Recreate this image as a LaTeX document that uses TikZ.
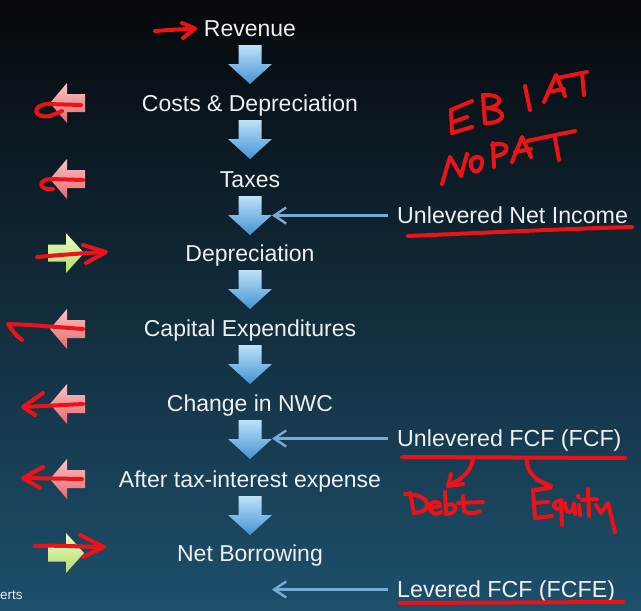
\documentclass[tikz,border=0pt]{standalone}
\usepackage{fontspec}
\setmainfont{Liberation Sans}
\usetikzlibrary{arrows.meta}

\definecolor{bgtop}{RGB}{6,8,11}
\definecolor{bgmid}{RGB}{17,48,66}
\definecolor{bgbot}{RGB}{29,80,108}
\definecolor{flowtop}{RGB}{190,226,248}
\definecolor{flowbot}{RGB}{68,146,212}
\definecolor{feedblue}{RGB}{120,172,214}
\definecolor{pinktop}{RGB}{250,196,196}
\definecolor{pinkbot}{RGB}{228,104,110}
\definecolor{greentop}{RGB}{238,250,196}
\definecolor{greenbot}{RGB}{176,220,108}
\definecolor{ink}{RGB}{236,18,24}
\definecolor{label}{RGB}{238,240,242}

\tikzset{
  step label/.style={text=label, font=\fontsize{23pt}{27pt}\selectfont,
    inner sep=0pt, anchor=base},
  side label/.style={text=label, font=\fontsize{23.2pt}{27pt}\selectfont,
    inner ysep=0pt, inner xsep=9pt, text height=15pt, text depth=0pt,
    anchor=west},
  feed/.style={draw=feedblue, line width=2.6pt,
    -{Straight Barb[length=12pt, width=16pt, line width=2.4pt]}},
  pen/.style={draw=ink, line width=4pt, line cap=round, line join=round},
  flow arrow/.pic={
    \shade[top color=flowtop, bottom color=flowbot]
      (-11.5,0) -- (11.5,0) -- (11.5,19) -- (22,19) -- (0,39)
      -- (-22,19) -- (-11.5,19) -- cycle;},
  out arrow/.pic={
    \shade[top color=pinktop, bottom color=pinkbot]
      (50,0) -- (67,-20) -- (67,-9) -- (85,-9) -- (85,9) -- (67,9)
      -- (67,20) -- cycle;},
  in arrow/.pic={
    \shade[top color=greentop, bottom color=greenbot]
      (48,-8.5) -- (66,-8.5) -- (66,-20) -- (84,0) -- (66,20)
      -- (66,8.5) -- (48,8.5) -- cycle;},
}

\begin{document}
\begin{tikzpicture}[x=1pt, y=-1pt]
  % backdrop
  \shade[top color=bgtop, middle color=bgmid, bottom color=bgbot]
    (0,0) rectangle (641,611);
  \useasboundingbox (0,0) rectangle (641,611);

  % cash-flow steps, top to bottom (baselines)
  \node[step label] (rev)  at (250,36)  {Revenue};
  \node[step label] (cost) at (250,111) {Costs \& Depreciation};
  \node[step label] (tax)  at (250,187) {Taxes};
  \node[step label] (dep)  at (250,261) {Depreciation};
  \node[step label] (capx) at (250,336) {Capital Expenditures};
  \node[step label] (nwc)  at (250,411) {Change in NWC};
  \node[step label] (int)  at (250,487) {After tax-interest expense};
  \node[step label] (borr) at (250,561) {Net Borrowing};

  % downward flow between consecutive steps
  \foreach \n in {rev,cost,tax,dep,capx,nwc,int}
    \pic at ([yshift=-9pt]\n.base) {flow arrow};

  % sign of each step: out of / into the cash flow
  \pic at (0,103) {out arrow};
  \pic at (0,179) {out arrow};
  \pic at (0,253) {in arrow};
  \pic at (0,329) {out arrow};
  \pic at (0,404) {out arrow};
  \pic at (0,479) {out arrow};
  \pic at (0,553) {in arrow};

  % named subtotals on the right
  \node[side label] (uni)  at (388,215.5) {Unlevered Net Income};
  \node[side label] (ufcf) at (388,438.5) {Unlevered FCF (FCF)};
  \node[side label] (lfcf) at (388,589.5) {Levered FCF (FCFE)};
  \coordinate (tipx) at (272,0);
  \draw[feed] (uni.west)  -- (uni.west -| tipx);
  \draw[feed] (ufcf.west) -- (ufcf.west -| tipx);
  \draw[feed] (lfcf.west) -- (lfcf.west -| tipx);

  % credit line, cut at the edge
  \node[text=label, font=\fontsize{13.5pt}{15pt}\selectfont, inner sep=0pt,
        anchor=base west] (credit) at (0,599) {erts};

  % ---- pen annotations ----
  % arrow into Revenue
  \draw[pen] (155,31) .. controls (170,30) and (182,29) .. (194,29);
  \draw[pen] (182,23) -- (195,28.5) -- (183,38);
  % costs
  \draw[pen] (81,105) -- (48,104) .. controls (31,105) and (33,119) .. (50,116) -- (62,111);
  % taxes
  \draw[pen] (83,180) -- (50,179) .. controls (37,180) and (39,191) .. (53,189);
  % depreciation
  \draw[pen] (37,257) .. controls (60,255) and (85,253) .. (105,252);
  \draw[pen] (83,245) -- (106,252) -- (86,263);
  % capital expenditures
  \draw[pen] (83,329) -- (30,325) -- (8,324) .. controls (12,330) and (16,336) .. (22,340);
  % change in NWC
  \draw[pen] (83,404) -- (24,407);
  \draw[pen] (43,393) -- (23,407) -- (35,415);
  % after-tax interest
  \draw[pen] (82,479) -- (25,478);
  \draw[pen] (43,467) -- (23,478) -- (40,488);
  % net borrowing
  \draw[pen] (35,546) .. controls (60,545) and (85,547) .. (103,547);
  \draw[pen] (80,535) -- (104,547) -- (83,557);

  % underlines
  \draw[pen] (408,236) .. controls (480,233) and (560,229) .. (632,227);
  \draw[pen] (402,457) -- (625,458);
  \draw[pen] (400,603) -- (623,602);

  % EBIAT
  \draw[pen] (451,110) -- (472,101);
  \draw[pen] (451,110) -- (452,133);
  \draw[pen] (453,122) -- (467,117);
  \draw[pen] (452,133) -- (472,127);
  \draw[pen] (483,95) -- (485,123);
  \draw[pen] (483,95) .. controls (508,94) and (500,108) .. (487,108)
                      .. controls (510,110) and (505,124) .. (485,123);
  \draw[pen] (525,86) -- (530,110);
  \draw[pen] (544,102) -- (556,75) -- (565,96);
  \draw[pen] (548,92) -- (564,89);
  \draw[pen] (557,78) -- (587,72);
  \draw[pen] (582,73) -- (584,95);

  % NOPAT
  \draw[pen] (442,184) -- (450,157) -- (461,176) -- (467,154);
  \draw[pen] (471,161) .. controls (469,175) and (483,175) .. (482,160)
                       .. controls (480,155) and (474,156) .. (471,161);
  \draw[pen] (493,143) -- (494,167);
  \draw[pen] (492,145) .. controls (512,140) and (510,155) .. (495,156);
  \draw[pen] (512,162) -- (522,137) -- (531,157);
  \draw[pen] (515,152) -- (531,149);
  \draw[pen] (527,141) -- (575,131);
  \draw[pen] (555,138) -- (559,160);

  % split of the unlevered FCF
  \draw[pen] (473,459) .. controls (471,472) and (462,479) .. (448,486);
  \draw[pen] (451,474) -- (448,486) -- (463,484);
  \draw[pen] (527,459) .. controls (526,472) and (536,481) .. (551,486);
  \draw[pen] (537,480) -- (551,486) -- (538,490);

  % Debt
  \draw[pen] (410,493) -- (414,513);
  \draw[pen] (405,494) .. controls (432,494) and (434,512) .. (414,513);
  \draw[pen] (431,508) -- (440,506) .. controls (439,499) and (429,501) .. (430,508)
                       .. controls (431,515) and (438,515) .. (441,512);
  \draw[pen] (445,492) -- (446,514);
  \draw[pen] (446,505) .. controls (458,501) and (459,514) .. (446,514);
  \draw[pen] (463,496) -- (464,511) .. controls (468,514) and (474,514) .. (480,511);
  \draw[pen] (458,503) -- (483,502);

  % Equity
  \draw[pen] (533,490) -- (550,488);
  \draw[pen] (533,490) -- (535,518);
  \draw[pen] (534,503) -- (548,502);
  \draw[pen] (535,518) -- (552,516);
  \draw[pen] (561,501) .. controls (551,500) and (552,512) .. (561,508);
  \draw[pen] (561,500) -- (562,525);
  \draw[pen] (565,503) .. controls (565,515) and (573,515) .. (574,503) -- (575,514);
  \draw[pen] (579,505) -- (580,515);
  \draw[pen] (578,496) -- (578.5,497);
  \draw[pen] (588,489) -- (589,516);
  \draw[pen] (582,500) -- (597,499);
  \draw[pen] (596,505) -- (601,513) -- (608,503) -- (615,532);
\end{tikzpicture}
\end{document}
